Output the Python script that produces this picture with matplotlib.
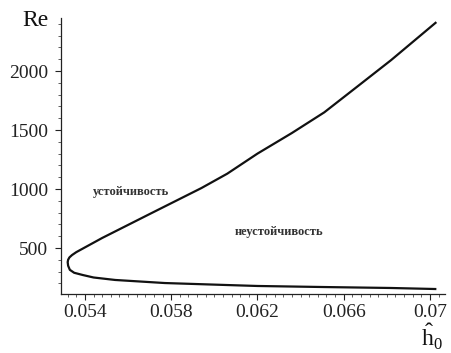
import matplotlib
matplotlib.use("Agg")
import matplotlib.pyplot as plt
from matplotlib.ticker import MultipleLocator, FixedLocator

# neutral stability curve: lower branch (right -> nose), then upper branch (nose -> right)
h0 = [0.0703, 0.0682, 0.0651, 0.0620, 0.0606, 0.0577, 0.0554, 0.0544, 0.0539,
      0.0535, 0.0533, 0.05322, 0.05320, 0.05322, 0.05328, 0.0534, 0.0536,
      0.0539, 0.0543, 0.0548, 0.0571, 0.0594, 0.0606, 0.0620, 0.0636, 0.0651,
      0.0666, 0.0682, 0.0703]
Re = [152, 161, 169, 178, 186, 203, 229, 250, 271,
      290, 315, 350, 380, 400, 420, 440, 465,
      495, 535, 585, 797, 1008, 1130, 1300, 1475, 1650,
      1864, 2093, 2415]

xticks = [0.054, 0.058, 0.062, 0.066, 0.07]
xtick_labels = ["0.054", "0.058", "0.062", "0.066", "0.07"]
yticks = [500, 1000, 1500, 2000]

plt.rcParams['font.family'] = ['Liberation Serif', 'DejaVu Serif']
plt.rcParams['mathtext.fontset'] = 'custom'
plt.rcParams['mathtext.rm'] = 'Liberation Serif'

fig = plt.figure(figsize=(4.52, 3.53), dpi=100)
ax = fig.add_axes([61/452, 1-294/353, (445-61)/452, (294-18)/353])

ax.plot(h0, Re, color='#111111', lw=1.6, solid_capstyle='butt', solid_joinstyle='round')

ax.set_xlim(0.05289, 0.0707)
ax.set_ylim(110, 2450)

ax.spines['top'].set_visible(False)
ax.spines['right'].set_visible(False)
for s in ('left', 'bottom'):
    ax.spines[s].set_linewidth(0.9)
    ax.spines[s].set_color('#222222')

ax.xaxis.set_major_locator(FixedLocator(xticks))
ax.set_xticklabels(xtick_labels)
ax.xaxis.set_minor_locator(MultipleLocator(0.0004))
ax.yaxis.set_major_locator(FixedLocator(yticks))
ax.yaxis.set_minor_locator(MultipleLocator(100))

ax.tick_params(which='major', direction='out', length=4, width=0.8,
               labelsize=14, pad=5, colors='#222222')
ax.tick_params(axis='x', which='major', pad=3)
ax.tick_params(which='minor', direction='out', length=2.5, width=0.6, colors='#444444')

fig.text(35/452, 1-20/353, "Re", fontsize=17, ha='center', va='center', color='#111111')

# axis label h-hat with subscript 0
fig.text(421/452, 1-346/353, r"$\hat{\mathrm{h}}_{\mathrm{0}}$", fontsize=17,
         ha='left', va='baseline', color='#111111')

ax.text(0.05437, 975, "устойчивость", fontsize=9, fontweight='bold',
        color='#333333', ha='left', va='center')
ax.text(0.06096, 636, "неустойчивость", fontsize=9, fontweight='bold',
        color='#333333', ha='left', va='center')

fig.savefig("out.png", dpi=100)
